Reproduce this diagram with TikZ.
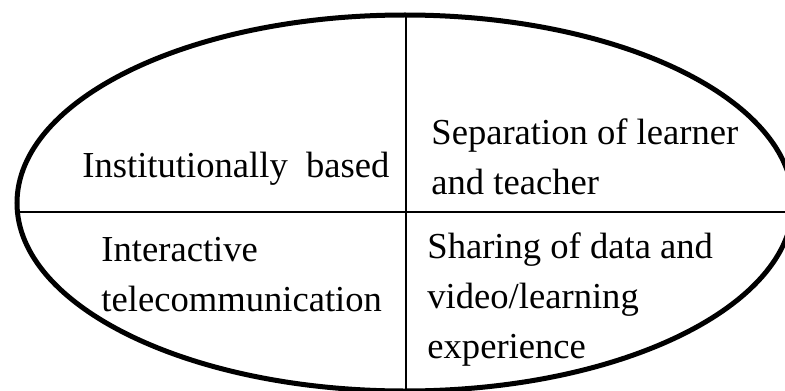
\documentclass[tikz,border=0pt]{standalone}
\usepackage{fontspec}
\setmainfont{Liberation Serif}
\usetikzlibrary{positioning}
\tikzset{
  celltext/.style={align=left,anchor=base west,inner sep=0pt,
    font=\fontsize{18.3}{25}\selectfont},
  rim/.style={draw=black,line width=2.5pt},
  divider/.style={draw=black,line width=1pt}
}

\begin{document}
\begin{tikzpicture}[x=.5pt,y=-.5pt]
\useasboundingbox (0,0) rectangle (785,390);
\clip (0,0) rectangle (785,390);

% outer oval, cut by the page on the right and at the bottom
\draw[rim] (405,203) ellipse [x radius=194pt,y radius=94pt];

\coordinate (top) at (405.5,15);
\coordinate (bot) at (405.5,390);
\coordinate (lft) at (17,212);
\coordinate (rgt) at (785,212);
\draw[divider] (top) -- (bot);
\draw[divider] (lft) -- (rgt);

% multi-line cells sit on the baseline of their last line
\node[celltext] (inst) at (82,177) {Institutionally\ \ based};
\node[celltext] (sep) at (431,194) {Separation of learner\\and teacher};
\node[celltext] (inter) at (101,311) {Interactive\\telecommunication};
\node[celltext] (share) at (427,358) {Sharing of data and\\video/learning\\experience};
\end{tikzpicture}
\end{document}
